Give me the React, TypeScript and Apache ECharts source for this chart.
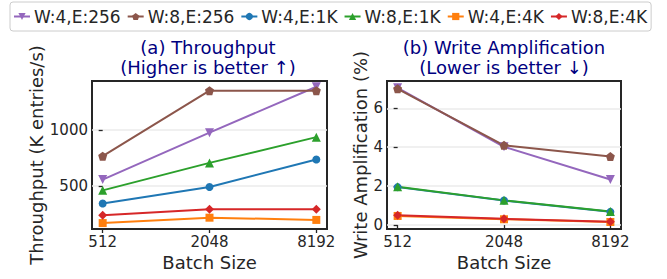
import React, { useEffect, useRef } from "react";
import * as echarts from "echarts";

const batchSizes = ["512", "2048", "8192"];
const seriesNames = ["W:4,E:256", "W:8,E:256", "W:4,E:1K", "W:8,E:1K", "W:4,E:4K", "W:8,E:4K"];
const seriesColors = ["#9467bd", "#8c564b", "#1f77b4", "#2ca02c", "#ff7f0e", "#d62728"];

// Throughput (K entries/s)
const tpW4E256 = [556, 975, 1385];
const tpW8E256 = [765, 1350, 1350];
const tpW4E1K = [342, 490, 735];
const tpW8E1K = [460, 705, 935];
const tpW4E4K = [168, 216, 196];
const tpW8E4K = [237, 291, 291];

// Write amplification (%)
const waW4E256 = [7.05, 4.02, 2.34];
const waW8E256 = [7.0, 4.1, 3.52];
const waW4E1K = [1.95, 1.26, 0.68];
const waW8E1K = [1.97, 1.27, 0.7];
const waW4E4K = [0.47, 0.3, 0.16];
const waW8E4K = [0.5, 0.32, 0.17];

const tpTicks = [500, 1000];
const waTicks = [0, 2, 4, 6];
const xTicks = [0, 1, 2];

const throughput = [tpW4E256, tpW8E256, tpW4E1K, tpW8E1K, tpW4E4K, tpW8E4K];
const writeAmp = [waW4E256, waW8E256, waW4E1K, waW8E1K, waW4E4K, waW8E4K];

const symbols = [
  "path://M-1,-0.8 L1,-0.8 L0,0.9 Z",
  "path://M0,-1 L0.951,-0.309 L0.588,0.809 L-0.588,0.809 L-0.951,-0.309 Z",
  "circle",
  "path://M-1,0.8 L1,0.8 L0,-0.9 Z",
  "rect",
  "path://M0,-1 L0.8,0 L0,1 L-0.8,0 Z",
];
const symbolSizes = [9, 9, 8, 9, 8, 9];

const FONT = "DejaVu Sans";
const DARK = "#262626";

export default function App() {
  const ref = useRef<HTMLDivElement>(null);
  useEffect(() => {
    document.body.style.margin = "0";
    const chart = echarts.init(ref.current!, null, { renderer: "svg" });

    const makeX = (gridIndex: number) => ({
      type: "value",
      gridIndex,
      min: -0.1,
      max: 2.1,
      axisLine: { show: false },
      axisTick: { show: true, customValues: xTicks, length: 4, lineStyle: { color: DARK, width: 1.3 } },
      axisLabel: {
        customValues: xTicks,
        formatter: (v: number) => batchSizes[Math.round(v)],
        fontFamily: FONT,
        fontSize: 15,
        color: DARK,
        margin: 5,
      },
      splitLine: { show: false },
      name: "Batch Size",
      nameLocation: "middle",
      nameGap: 24,
      nameTextStyle: { fontFamily: FONT, fontSize: 18, color: DARK },
    });

    const makeY = (gridIndex: number, min: number, max: number, ticks: number[], name: string, nameGap: number) => ({
      type: "value",
      gridIndex,
      min,
      max,
      axisLine: { show: false },
      axisTick: { show: true, customValues: ticks, length: 4, lineStyle: { color: DARK, width: 1.3 } },
      axisLabel: {
        customValues: ticks,
        formatter: (v: number) => String(v),
        fontFamily: FONT,
        fontSize: 15,
        color: DARK,
        margin: 4,
      },
      splitLine: { show: true, customValues: ticks, lineStyle: { color: "#ebebeb", width: 1.5 } },
      name,
      nameLocation: "middle",
      nameGap,
      nameTextStyle: { fontFamily: FONT, fontSize: 18, color: DARK },
    });

    const series: any[] = [];
    [throughput, writeAmp].forEach((group, gi) => {
      group.forEach((vals, i) => {
        series.push({
          type: "line",
          name: seriesNames[i],
          xAxisIndex: gi,
          yAxisIndex: gi,
          data: vals.map((v, k) => [k, v]),
          symbol: symbols[i],
          symbolSize: symbolSizes[i],
          showAllSymbol: true,
          color: seriesColors[i],
          lineStyle: { width: 2, color: seriesColors[i] },
          itemStyle: { color: seriesColors[i] },
          emphasis: { disabled: true },
        });
      });
    });

    const titleStyle = { fontFamily: FONT, fontSize: 18, fontWeight: "normal", color: "#000080", lineHeight: 20 };

    chart.setOption({
      animation: false,
      textStyle: { fontFamily: FONT },
      title: [
        { text: "(a) Throughput\n(Higher is better \u2191)", left: 208, top: 37, textAlign: "center", textStyle: titleStyle, padding: 0 },
        { text: "(b) Write Amplification\n(Lower is better \u2193)", left: 504, top: 37, textAlign: "center", textStyle: titleStyle, padding: 0 },
      ],
      legend: {
        data: seriesNames,
        left: 10,
        top: 2,
        padding: [6, 4, 6, 3],
        itemGap: 6,
        itemWidth: 16,
        itemHeight: 9,
        borderColor: "#cccccc",
        borderWidth: 1,
        borderRadius: 3,
        textStyle: { fontFamily: FONT, fontSize: 17, color: DARK, padding: [0, 0, 0, -1] },
      },
      grid: [
        { left: 92, top: 81, width: 235, height: 148, show: true, borderColor: DARK, borderWidth: 2, backgroundColor: "transparent" },
        { left: 387, top: 81, width: 234, height: 148, show: true, borderColor: DARK, borderWidth: 2, backgroundColor: "transparent" },
      ],
      xAxis: [makeX(0), makeX(1)],
      yAxis: [
        makeY(0, 115, 1436, tpTicks, "Throughput (K entries/s)", 44),
        makeY(1, -0.2, 7.4, waTicks, "Write Amplification (%)", 15),
      ],
      series,
    });
    return () => chart.dispose();
  }, []);
  return <div ref={ref} style={{ position: "absolute", left: 0, top: 0, width: 667, height: 279 }} />;
}
